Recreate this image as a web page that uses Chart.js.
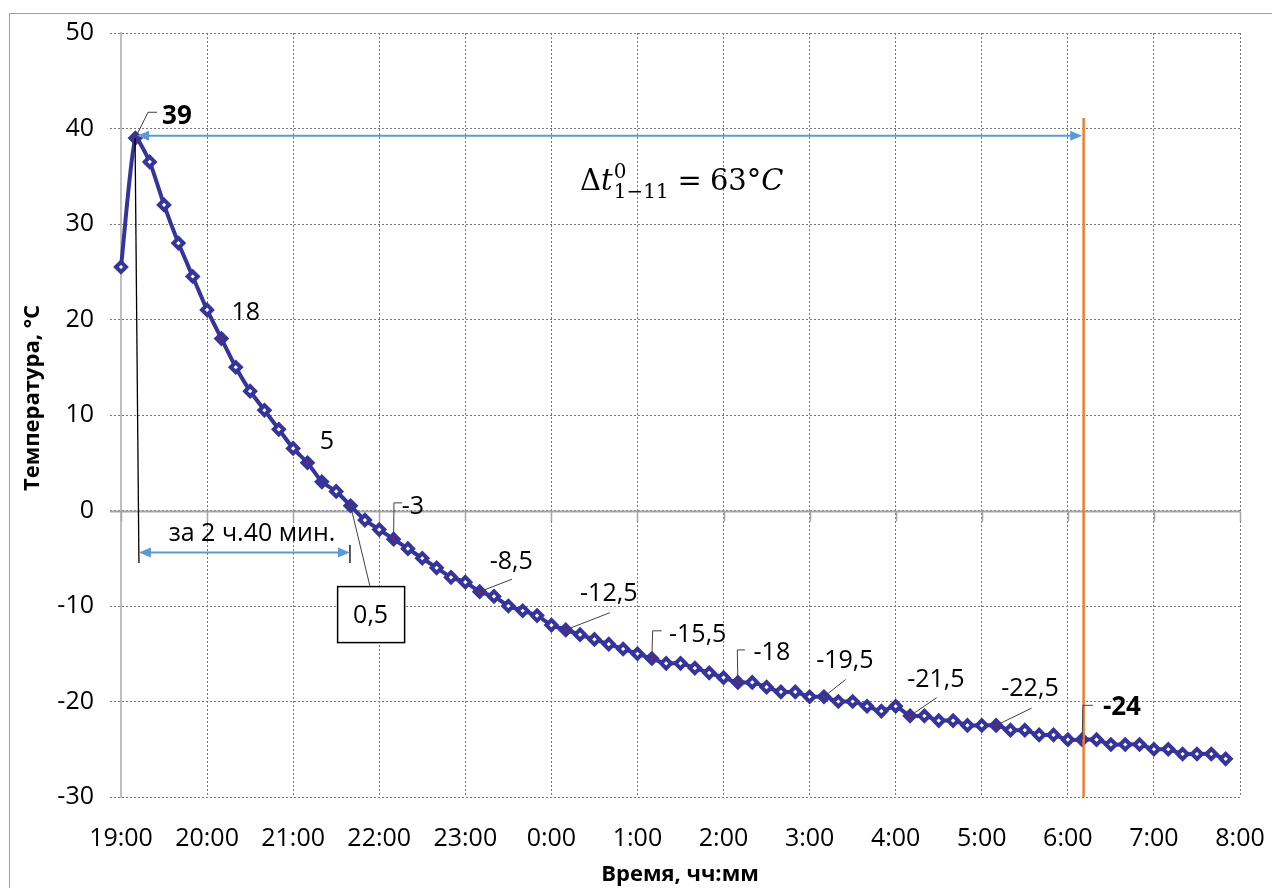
<!DOCTYPE html>
<html>
<head>
<meta charset="utf-8">
<script src="https://cdn.jsdelivr.net/npm/chart.js@4.4.1/dist/chart.umd.min.js"></script>
<style>
  html, body { margin: 0; padding: 0; background: #fff; }
  #wrap { width: 1272px; height: 888px; }
</style>
</head>
<body>
<div id="wrap"><canvas id="chart" width="1272" height="888"></canvas></div>
<script>
// --- Data ---
const times = [
  '19:00', '19:10', '19:20', '19:30', '19:40', '19:50',
  '20:00', '20:10', '20:20', '20:30', '20:40', '20:50',
  '21:00', '21:10', '21:20', '21:30', '21:40', '21:50',
  '22:00', '22:10', '22:20', '22:30', '22:40', '22:50',
  '23:00', '23:10', '23:20', '23:30', '23:40', '23:50',
  '0:00', '0:10', '0:20', '0:30', '0:40', '0:50',
  '1:00', '1:10', '1:20', '1:30', '1:40', '1:50',
  '2:00', '2:10', '2:20', '2:30', '2:40', '2:50',
  '3:00', '3:10', '3:20', '3:30', '3:40', '3:50',
  '4:00', '4:10', '4:20', '4:30', '4:40', '4:50',
  '5:00', '5:10', '5:20', '5:30', '5:40', '5:50',
  '6:00', '6:10', '6:20', '6:30', '6:40', '6:50',
  '7:00', '7:10', '7:20', '7:30', '7:40', '7:50'
];
const temps = [
  25.5, 39, 36.5, 32, 28, 24.5,
  21, 18, 15, 12.5, 10.5, 8.5,
  6.5, 5, 3, 2, 0.5, -1,
  -2, -3, -4, -5, -6, -7,
  -7.5, -8.5, -9, -10, -10.5, -11,
  -12, -12.5, -13, -13.5, -14, -14.5,
  -15, -15.5, -16, -16, -16.5, -17,
  -17.5, -18, -18, -18.5, -19, -19,
  -19.5, -19.5, -20, -20, -20.5, -21,
  -20.5, -21.5, -21.5, -22, -22, -22.5,
  -22.5, -22.5, -23, -23, -23.5, -23.5,
  -24, -24, -24, -24.5, -24.5, -24.5,
  -25, -25, -25.5, -25.5, -25.5, -26
];
const hourLabels = ['19:00', '20:00', '21:00', '22:00', '23:00', '0:00', '1:00',
  '2:00', '3:00', '4:00', '5:00', '6:00', '7:00', '8:00'];
const yTicks = [50, 40, 30, 20, 10, 0, -10, -20, -30];
const labeledTimes = ['19:10', '20:10', '21:10', '21:40', '22:10', '23:10', '0:10',
  '1:10', '2:10', '3:10', '4:10', '5:10', '6:10'];
const filledTimes = ['21:20'];
const startTime = '19:00';
const endTime = '6:11';   // orange line
const deltaText = '63';

// minutes since 19:00
function toMin(s) {
  const [h, m] = s.split(':').map(Number);
  let t = h * 60 + m - 19 * 60;
  if (t < 0) t += 1440;
  return t;
}

const points = times.map((t, i) => ({ x: toMin(t), y: temps[i] }));
const labeledIdx = labeledTimes.map(t => times.indexOf(t));

const BLUE = '#34349A';
const ARROW = '#5B9BD5';
const FONT = "'Open Sans', 'Noto Sans', sans-serif";

// label placement (minutes, degrees) for each labelled point; leader goes from point through the listed corners
const labelSpots = {
  '19:10': { tx: 39, ty: 41.4, bold: true, leader: [[18.8, 41.7], [25.1, 41.7]] },
  '20:10': { tx: 87, ty: 20.8 },
  '21:10': { tx: 143.6, ty: 7.3 },
  '21:40': { tx: 174, ty: -10.9, boxed: true, leader: [[173.5, -7.9]] },
  '22:10': { tx: 203.5, ty: 0.5, leader: [[190.3, 0.8], [195.9, 0.8]] },
  '23:10': { tx: 272, ty: -5.3, leader: [[272.5, -7.2]] },
  '0:10': { tx: 340, ty: -8.6, leader: [[340.8, -10.7]] },
  '1:10': { tx: 402, ty: -12.9, leader: [[370.6, -12.6], [376.9, -12.6]] },
  '2:10': { tx: 453.7, ty: -14.8, leader: [[429.6, -14.6], [434.9, -14.6]] },
  '3:10': { tx: 504.6, ty: -15.65, leader: [[505.1, -17.7]] },
  '4:10': { tx: 568, ty: -17.6, leader: [[568.6, -19.6]] },
  '5:10': { tx: 633.6, ty: -18.6, leader: [[634.7, -20.7]] },
  '6:10': { tx: 697.7, ty: -20.5, bold: true, leader: [[670.5, -20.4], [677.5, -20.4]] }
};

function fmt(v) {
  return String(v).replace('.', ',');
}

function arrowHead(ctx, x, y, dir) {
  ctx.beginPath();
  ctx.moveTo(x, y);
  ctx.lineTo(x - dir * 12, y - 5);
  ctx.lineTo(x - dir * 12, y + 5);
  ctx.closePath();
  ctx.fill();
}

function doubleArrow(ctx, x1, x2, y) {
  ctx.save();
  ctx.strokeStyle = ARROW;
  ctx.fillStyle = ARROW;
  ctx.lineWidth = 2;
  ctx.beginPath();
  ctx.moveTo(x1 + 8, y);
  ctx.lineTo(x2 - 8, y);
  ctx.stroke();
  arrowHead(ctx, x1, y, -1);
  arrowHead(ctx, x2, y, 1);
  ctx.restore();
}

const decorPlugin = {
  id: 'decor',
  beforeDraw(chart) {
    const ctx = chart.ctx;
    ctx.save();
    ctx.strokeStyle = '#A0A0A0';
    ctx.lineWidth = 1;
    ctx.strokeRect(9.5, 13.5, 1300, 1000);
    ctx.restore();
  },
  beforeDatasetsDraw(chart) {
    const { ctx, chartArea, scales: { x, y } } = chart;
    const y0 = Math.round(y.getPixelForValue(0)) + 0.5;
    ctx.save();
    ctx.strokeStyle = '#A6A6A6';
    ctx.lineWidth = 2;
    ctx.beginPath();
    ctx.moveTo(chartArea.left - 11, y0);
    ctx.lineTo(chartArea.right, y0);
    ctx.stroke();
    ctx.lineWidth = 1.5;
    hourLabels.forEach((_, i) => {
      const xp = Math.round(x.getPixelForValue(i * 60)) + 0.5;
      ctx.beginPath();
      ctx.moveTo(xp, y0);
      ctx.lineTo(xp, y0 + 10);
      ctx.stroke();
    });
    ctx.restore();
  },
  afterDatasetsDraw(chart) {
    const { ctx, chartArea, scales: { x, y } } = chart;
    const px = m => x.getPixelForValue(m);
    const py = v => y.getPixelForValue(v);
    const meta = chart.getDatasetMeta(0);

    // red dots in labelled markers
    ctx.save();
    ctx.fillStyle = '#FF0000';
    labeledIdx.forEach(i => {
      const el = meta.data[i];
      ctx.fillRect(el.x - 1, el.y - 1, 2, 2);
    });
    ctx.restore();

    const t0 = toMin(startTime) + 10;
    const peak = Math.max(...temps);
    const tEnd = toMin(endTime);

    // black drop line from the peak
    ctx.save();
    ctx.strokeStyle = '#000';
    ctx.lineWidth = 1.3;
    ctx.beginPath();
    ctx.moveTo(px(t0 - 0.2), py(peak));
    ctx.lineTo(px(12.5), py(-5.5));
    ctx.stroke();
    // small end mark at 0,5
    ctx.beginPath();
    ctx.moveTo(px(159.6), py(-3.6));
    ctx.lineTo(px(159.6), py(-5.5));
    ctx.stroke();
    ctx.restore();

    // time span arrow
    doubleArrow(ctx, px(12.5), px(159.6), py(-4.4));
    ctx.save();
    ctx.fillStyle = '#000';
    ctx.font = `25px ${FONT}`;
    ctx.textAlign = 'center';
    ctx.textBaseline = 'middle';
    ctx.fillText('за 2 ч.40 мин.', px(91.3), py(-2.45));
    ctx.restore();

    // top arrow across the whole cooling interval
    doubleArrow(ctx, px(11.2), px(tEnd - 1), py(39.25));

    // orange end line
    ctx.save();
    ctx.strokeStyle = '#ED7D31';
    ctx.lineWidth = 2.5;
    ctx.beginPath();
    ctx.moveTo(px(tEnd), py(41.1));
    ctx.lineTo(px(tEnd), chartArea.bottom);
    ctx.stroke();
    ctx.restore();

    // data labels
    labeledTimes.forEach(t => {
      const spot = labelSpots[t];
      const i = times.indexOf(t);
      const el = meta.data[i];
      if (spot.leader) {
        ctx.save();
        ctx.strokeStyle = '#404040';
        ctx.lineWidth = 1;
        ctx.beginPath();
        ctx.moveTo(el.x, el.y);
        spot.leader.forEach(([lx, ly]) => ctx.lineTo(px(lx), py(ly)));
        ctx.stroke();
        ctx.restore();
      }
      const cx = px(spot.tx), cy = py(spot.ty);
      ctx.save();
      if (spot.boxed) {
        ctx.fillStyle = '#fff';
        ctx.strokeStyle = '#000';
        ctx.lineWidth = 1.5;
        ctx.fillRect(cx - 33, cy - 28, 67, 56);
        ctx.strokeRect(cx - 33, cy - 28, 67, 56);
      }
      ctx.fillStyle = '#000';
      ctx.font = `${spot.bold ? 'bold 26px' : '25px'} ${FONT}`;
      ctx.textAlign = 'center';
      ctx.textBaseline = 'middle';
      ctx.fillText(fmt(temps[i]), cx, cy + 1);
      ctx.restore();
    });

    // formula  Δt⁰₁₋₁₁ = 63°C
    ctx.save();
    ctx.fillStyle = '#000';
    ctx.textBaseline = 'alphabetic';
    ctx.textAlign = 'left';
    let fx = px(320);
    const fy = py(33.55);
    const serif = "'DejaVu Serif', 'Liberation Serif', serif";
    const piece = (txt, font, dy) => {
      ctx.font = font;
      ctx.fillText(txt, fx, fy + (dy || 0));
      fx += ctx.measureText(txt).width;
    };
    piece('Δ', `29px ${serif}`);
    piece('t', `italic 29px ${serif}`);
    const subX = fx + 1;
    fx = subX;
    piece('0', `20px ${serif}`, -12);
    fx = subX;
    piece('1−11', `20px ${serif}`, 8);
    fx += 9;
    piece('=', `29px ${serif}`);
    fx += 8;
    piece(deltaText + '°', `29px ${serif}`);
    piece('C', `italic 29px ${serif}`);
    ctx.restore();
  },
  afterDraw(chart) {
    const { ctx } = chart;
    ctx.save();
    ctx.fillStyle = '#000';
    ctx.font = `bold 22px ${FONT}`;
    ctx.textAlign = 'center';
    ctx.textBaseline = 'middle';
    ctx.fillText('Время, чч:мм', 680, 875);
    ctx.translate(33, 398);
    ctx.rotate(-Math.PI / 2);
    ctx.fillText('Температура, °С', 0, 0);
    ctx.restore();
  }
};

document.addEventListener('DOMContentLoaded', () => {
  const ctx = document.getElementById('chart').getContext('2d');
  new Chart(ctx, {
    type: 'line',
    data: {
      datasets: [{
        data: points,
        clip: false,
        borderColor: BLUE,
        borderWidth: 4,
        tension: 0.2,
        pointStyle: 'rectRot',
        pointRadius: 5,
        pointBorderWidth: 4,
        pointBorderColor: BLUE,
        pointBackgroundColor: times.map(t =>
          labeledTimes.includes(t) || filledTimes.includes(t) ? BLUE : '#FFFFFF')
      }]
    },
    options: {
      responsive: false,
      animation: false,
      devicePixelRatio: 1,
      layout: { padding: { top: 33, right: 32, left: 0, bottom: 0 } },
      plugins: { legend: { display: false }, tooltip: { enabled: false } },
      scales: {
        x: {
          type: 'linear',
          min: 0,
          max: 780,
          afterBuildTicks: s => { s.ticks = hourLabels.map((_, i) => ({ value: i * 60 })); },
          afterFit: s => { s.height = 91; s.paddingLeft = 0; s.paddingRight = 0; },
          ticks: {
            callback: (v, i) => hourLabels[i],
            color: '#000',
            font: { family: FONT, size: 25 },
            padding: 27,
            maxRotation: 0,
            autoSkip: false
          },
          grid: { color: '#777', drawTicks: false, lineWidth: 1 },
          border: { display: false, dash: [2, 2] }
        },
        y: {
          min: -30,
          max: 50,
          afterBuildTicks: s => { s.ticks = yTicks.map(v => ({ value: v })); },
          afterFit: s => { s.width = 121; s.paddingTop = 0; s.paddingBottom = 0; },
          ticks: {
            color: '#000',
            font: { family: FONT, size: 25 },
            padding: 16
          },
          grid: { color: '#777', tickLength: 11, tickColor: '#777', tickBorderDash: [2, 2] },
          border: { display: true, color: '#BFBFBF', width: 2, dash: [2, 2] }
        }
      }
    },
    plugins: [decorPlugin]
  });
});
</script>
</body>
</html>
